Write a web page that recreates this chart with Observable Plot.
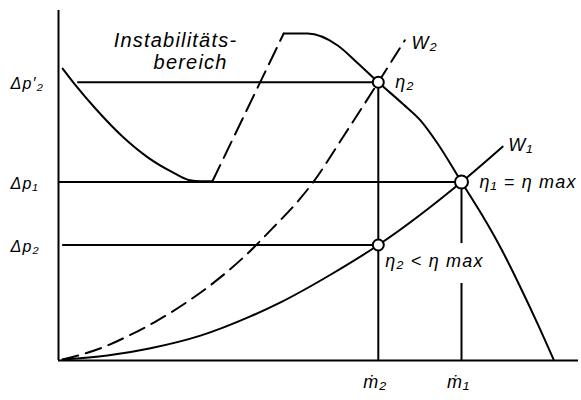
<!DOCTYPE html>
<html><head><meta charset="utf-8">
<script src="https://cdn.jsdelivr.net/npm/d3@7"></script>
<script src="https://cdn.jsdelivr.net/npm/@observablehq/plot@0.6"></script>
<style>
body{margin:0;background:#fff}
svg text{font-style:italic;letter-spacing:1.2px}
</style>
</head><body><div id="chart"></div>
<script>
// operating points (arbitrary units: mass flow 0–100, pressure rise 0–100)
const m2 = 61.5, m1 = 77.5;
const dp2prime = 79.5, dp1 = 51, dp2 = 33;
const pressureLevels = [dp2prime, dp1, dp2];
const pressureLabels = ["Δp′₂", "Δp₁", "Δp₂"];
const flowLevels = [m2, m1];
const flowLabels = ["ṁ₂", "ṁ₁"];

// fan characteristic
const fanLeft = [[0.8,83.4],[3.3,78.6],[7.1,72.0],[12.3,64.0],[17.3,57.9],[21.9,53.8],[25.0,51.6],[27.5,51.2],[29.6,51.2]];
const surgeLine = [[29.6,51.2],[43.3,93.4]];
const fanRight = [[43.3,93.4],[47.9,93.4],[53.7,90.0],[57.5,85.0],[61.5,79.5],[66.3,73.2],[69.6,68.6],[72.9,62.0],[77.5,51],[81.2,42.2],[85.0,32.3],[88.8,21.0],[92.1,10.6],[95.2,0.3]];
// system resistance curves
const w1 = [[0.8,0.3],[9.4,1.4],[17.7,3.5],[27.3,7.1],[36.9,12.6],[42.7,16.6],[52.3,24.5],[61.5,33],[77.5,51],[85.4,61.1]];
const w2 = [[0.8,0.3],[4.2,1.6],[8.1,3.5],[13.8,7.3],[19.0,11.4],[24.0,16.0],[29.2,21.5],[35.6,29.5],[41.3,38.0],[46.5,46.3],[49.0,51],[55.0,64.5],[61.5,79.5],[66.6,91.5]];

const hLines = [
  {y: dp2prime, x1: 3.7, x2: m2},
  {y: dp1, x1: 0, x2: m1},
  {y: dp2, x1: 0.8, x2: m2}
];
const vLines = [
  {x: m2, y1: 0, y2: dp2prime},
  {x: m1, y1: 0, y2: 22},
  {x: m1, y1: 33.4, y2: dp1}
];
const points = [
  {x: m2, y: dp2prime, r: 5.5},
  {x: m1, y: dp1, r: 6.5},
  {x: m2, y: dp2, r: 5.5}
];

const sw = 2;
const chart = Plot.plot({
  width: 581, height: 400,
  marginLeft: 58, marginRight: 3, marginTop: 10, marginBottom: 40,
  x: {domain: [0, 100], axis: null},
  y: {domain: [0, 100], axis: null},
  r: {type: "identity"},
  style: {fontFamily: "Liberation Sans, Arial, sans-serif", color: "#000", background: "#fff"},
  marks: [
    Plot.ruleX([0], {stroke: "#000", strokeWidth: sw}),
    Plot.ruleY([0], {stroke: "#000", strokeWidth: sw}),
    Plot.ruleY(hLines, {y: "y", x1: "x1", x2: "x2", stroke: "#000", strokeWidth: sw}),
    Plot.ruleX(vLines, {x: "x", y1: "y1", y2: "y2", stroke: "#000", strokeWidth: sw}),
    Plot.line(fanLeft, {x: d => d[0], y: d => d[1], curve: "monotone-x", stroke: "#000", strokeWidth: sw}),
    Plot.line(surgeLine, {x: d => d[0], y: d => d[1], stroke: "#000", strokeWidth: sw, strokeDasharray: "18,8"}),
    Plot.line(fanRight, {x: d => d[0], y: d => d[1], curve: "monotone-x", stroke: "#000", strokeWidth: sw}),
    Plot.line(w1, {x: d => d[0], y: d => d[1], curve: "monotone-x", stroke: "#000", strokeWidth: sw}),
    Plot.line(w2, {x: d => d[0], y: d => d[1], curve: "monotone-x", stroke: "#000", strokeWidth: sw, strokeDasharray: "16,8"}),
    Plot.dot(points, {x: "x", y: "y", r: "r", fill: "#fff", stroke: "#000", strokeWidth: 2}),
    // axis labels
    Plot.text(pressureLevels, {y: d => d, text: (d, i) => pressureLabels[i], frameAnchor: "left", dx: -48, dy: 2, textAnchor: "start", fontSize: 16}),
    Plot.text(flowLevels, {x: d => d, text: (d, i) => flowLabels[i], frameAnchor: "bottom", dx: -3, dy: 27, fontSize: 18}),
    // annotations
    Plot.text(["Instabilitäts-"], {x: 22.5, y: 91.4, text: d => d, fontSize: 20}),
    Plot.text(["bereich"], {x: 25.4, y: 85.1, text: d => d, fontSize: 20}),
    Plot.text(["η₂"], {x: m2, y: dp2prime, text: d => d, dx: 17, textAnchor: "start", fontSize: 18}),
    Plot.text(["W₂"], {x: 67.9, y: 90.6, text: d => d, textAnchor: "start", fontSize: 18}),
    Plot.text(["W₁"], {x: 86.5, y: 61.4, text: d => d, textAnchor: "start", fontSize: 18}),
    Plot.text(["η₁ = η max"], {x: m1, y: dp1, text: d => d, dx: 18, textAnchor: "start", fontSize: 18}),
    Plot.text(["η₂ < η max"], {x: m2, y: dp2, text: d => d, dx: 7, dy: 16, textAnchor: "start", fontSize: 18})
  ]
});
document.getElementById("chart").appendChild(chart);
</script>
</body></html>
